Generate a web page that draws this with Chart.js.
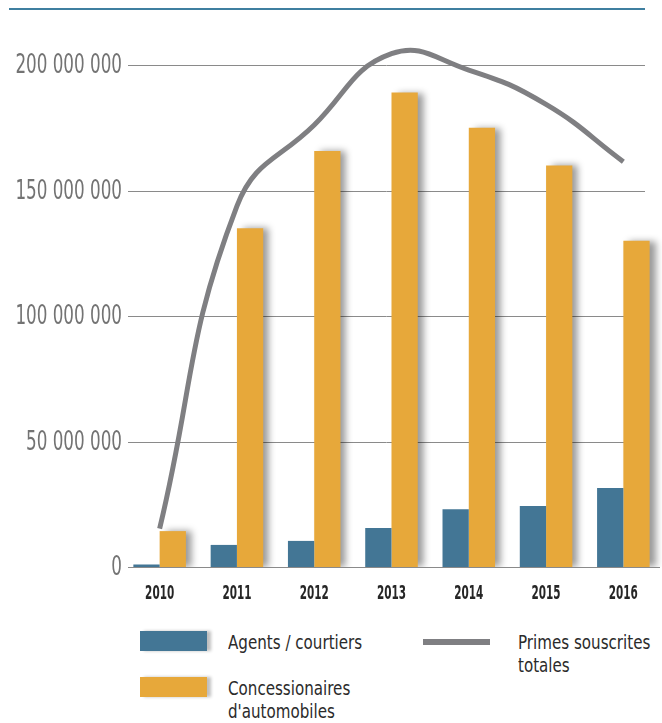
<!DOCTYPE html>
<html>
<head>
<meta charset="utf-8">
<script src="https://cdn.jsdelivr.net/npm/chart.js@4"></script>
<style>
  html, body { margin: 0; padding: 0; background: #fff; }
  body { width: 662px; height: 723px; position: relative; overflow: hidden;
         font-family: 'DejaVu Sans Condensed', 'DejaVu Sans', sans-serif; }
  .rule { position: absolute; left: 9px; top: 8px; width: 636px; height: 2px; background: #3f7fa0; }
  #wrap { position: absolute; left: 0; top: 0; width: 662px; height: 620px; }
  .leg { position: absolute; color: #2b2b2b; font-size: 20px; line-height: 23px;
         transform: scaleX(0.84); transform-origin: 0 0; white-space: nowrap; }
  .sw { position: absolute; width: 67px; height: 20px; box-shadow: 4px 0 3px rgba(0,0,0,0.25); }
</style>
</head>
<body>
<div class="rule"></div>
<div id="wrap"><canvas id="chart" width="662" height="620"></canvas></div>

<div class="sw" style="left:140px;top:631px;background:#437695"></div>
<div class="leg" style="left:228px;top:631px">Agents / courtiers</div>
<div class="sw" style="left:140px;top:677px;background:#e7a83a"></div>
<div class="leg" style="left:228px;top:677px">Concessionaires<br>d'automobiles</div>
<div style="position:absolute;left:423px;top:639px;width:67px;height:6px;background:#7f7f82"></div>
<div class="leg" style="left:518px;top:631px">Primes souscrites<br>totales</div>

<script>
// ── DATA ──
const YEARS   = ['2010', '2011', '2012', '2013', '2014', '2015', '2016'];
const AGENTS  = [1000000, 8800000, 10400000, 15500000, 23000000, 24300000, 31500000];
const DEALERS = [14300000, 135000000, 165700000, 189000000, 175000000, 160000000, 130000000];
const TOTAL   = [15300000, 143800000, 176100000, 204500000, 198000000, 184300000, 161500000];
const Y_TICKS = [0, 50000000, 100000000, 150000000, 200000000];

const COLORS = { blue: '#437695', orange: '#e7a83a', gray: '#7f7f82' };
const FONT = "'DejaVu Sans Condensed', 'DejaVu Sans', sans-serif";

// soft shadow to the right of the orange bars
const barShadow = {
  id: 'barShadow',
  beforeDatasetDraw(chart, args) {
    if (args.index !== 2) return;
    const c = chart.ctx;
    c.save();
    c.shadowColor = 'rgba(0,0,0,0.4)';
    c.shadowOffsetX = 6;
    c.shadowOffsetY = 0;
    c.shadowBlur = 7;
  },
  afterDatasetDraw(chart, args) {
    if (args.index !== 2) return;
    chart.ctx.restore();
  }
};

const fmt = v => String(v).replace(/\B(?=(\d{3})+(?!\d))/g, ' ');

// gridlines + condensed tick labels (the chart font is very narrow)
const axesDeco = {
  id: 'axesDeco',
  beforeDatasetsDraw(chart) {
    const c = chart.ctx, y = chart.scales.y;
    c.save();
    c.strokeStyle = '#8a8a8a';
    c.lineWidth = 1;
    Y_TICKS.forEach(v => {
      const py = Math.round(y.getPixelForValue(v)) + 0.5;
      c.beginPath();
      c.moveTo(128, py);
      c.lineTo(v === 0 ? 660 : 645, py);
      c.stroke();
    });
    c.restore();
  },
  afterDraw(chart) {
    const c = chart.ctx, x = chart.scales.x, y = chart.scales.y;
    c.save();
    c.fillStyle = '#737373';
    c.font = '27px ' + FONT;
    c.textAlign = 'right';
    c.textBaseline = 'middle';
    Y_TICKS.forEach(v => {
      c.save();
      c.translate(122, y.getPixelForValue(v) + 1);
      c.scale(0.69, 1);
      c.fillText(fmt(v), 0, 0);
      c.restore();
    });
    c.fillStyle = '#262626';
    c.font = 'bold 20px ' + FONT;
    c.textAlign = 'center';
    c.textBaseline = 'alphabetic';
    YEARS.forEach((lab, i) => {
      c.save();
      c.translate(x.getPixelForValue(i), 599);
      c.scale(0.58, 1);
      c.fillText(lab, 0, 0);
      c.restore();
    });
    c.restore();
  }
};

new Chart(document.getElementById('chart'), {
  type: 'bar',
  data: {
    labels: YEARS,
    datasets: [
      {
        type: 'line',
        label: 'Primes souscrites totales',
        data: TOTAL,
        borderColor: COLORS.gray,
        borderWidth: 5,
        pointRadius: 0,
        tension: 0.45,
        clip: false,
      },
      {
        label: 'Agents / courtiers',
        data: AGENTS,
        backgroundColor: COLORS.blue,
        barPercentage: 1,
        categoryPercentage: 0.68,
      },
      {
        label: "Concessionaires d'automobiles",
        data: DEALERS,
        backgroundColor: COLORS.orange,
        barPercentage: 1,
        categoryPercentage: 0.68,
      },
    ]
  },
  options: {
    responsive: false,
    animation: false,
    layout: { padding: { top: 65, bottom: 13, left: 0, right: 0 } },
    plugins: { legend: { display: false }, tooltip: { enabled: false } },
    scales: {
      x: {
        grid: { display: false, drawTicks: false },
        border: { display: false },
        ticks: { display: false },
        afterFit: s => { s.height = 40; },
      },
      y: {
        min: 0,
        max: 200000000,
        grid: { display: false, drawTicks: false },
        border: { display: false },
        ticks: { display: false, stepSize: 50000000 },
        afterFit: s => { s.width = 121; },
      }
    }
  },
  plugins: [axesDeco, barShadow]
});
</script>
</body>
</html>
